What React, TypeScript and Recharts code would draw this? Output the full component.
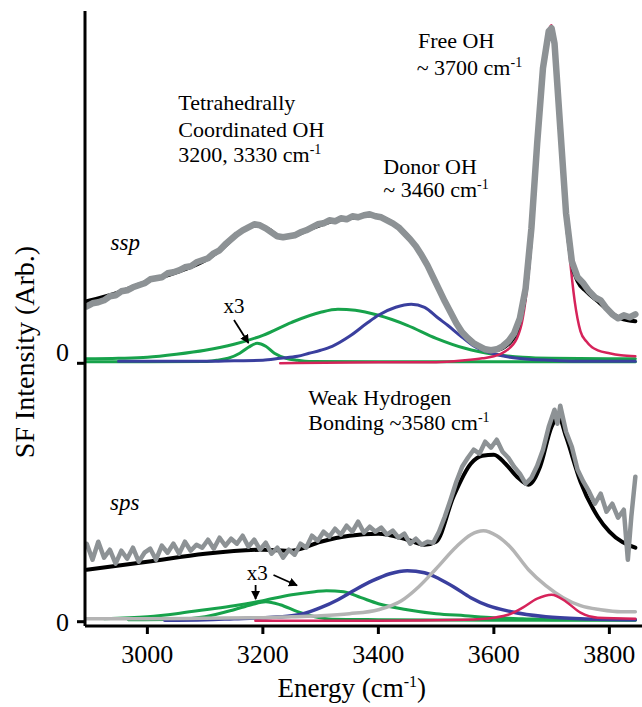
import React from 'react';
import { LineChart, Line, XAxis, YAxis } from 'recharts';

const FONT = 'Liberation Serif, Times New Roman, serif';

// ---------- shared axis ----------
const xDomain = [2892, 3856.5];
const xTicks = [3000, 3200, 3400, 3600, 3800];
const sspDomain = [-0.037, 3.523];
const spsDomain = [-0.043, 2.547];

// ---------- ssp panel ----------
const sspDataE = [2895, 2905, 2915, 2925, 2935, 2945, 2955, 2965, 2975, 2985, 2995, 3005, 3015, 3025, 3035, 3045, 3055, 3065, 3075, 3085, 3095, 3105, 3115, 3125, 3135, 3145, 3155, 3165, 3175, 3185, 3195, 3205, 3215, 3225, 3235, 3245, 3255, 3265, 3275, 3285, 3295, 3305, 3315, 3325, 3335, 3345, 3355, 3365, 3375, 3385, 3395, 3405, 3415, 3425, 3435, 3445, 3455, 3465, 3475, 3485, 3495, 3505, 3515, 3525, 3535, 3545, 3555, 3565, 3575, 3585, 3595, 3605, 3615, 3625, 3635, 3645, 3655, 3665, 3675, 3685, 3695, 3700, 3705, 3715, 3725, 3735, 3745, 3755, 3765, 3775, 3785, 3795, 3805, 3815, 3825, 3835, 3845];
const sspDataI = [0.57, 0.60, 0.61, 0.63, 0.67, 0.68, 0.72, 0.73, 0.76, 0.78, 0.80, 0.84, 0.85, 0.86, 0.90, 0.91, 0.93, 0.96, 0.97, 1.01, 1.03, 1.05, 1.10, 1.13, 1.19, 1.24, 1.29, 1.33, 1.36, 1.39, 1.38, 1.35, 1.31, 1.27, 1.26, 1.27, 1.28, 1.31, 1.33, 1.36, 1.39, 1.40, 1.43, 1.42, 1.45, 1.44, 1.47, 1.46, 1.48, 1.49, 1.47, 1.46, 1.43, 1.40, 1.36, 1.30, 1.24, 1.17, 1.08, 0.98, 0.86, 0.74, 0.62, 0.51, 0.40, 0.31, 0.25, 0.20, 0.17, 0.14, 0.13, 0.14, 0.17, 0.22, 0.30, 0.45, 0.75, 1.35, 2.20, 2.95, 3.32, 3.35, 3.20, 2.35, 1.50, 1.02, 0.86, 0.80, 0.72, 0.66, 0.63, 0.55, 0.49, 0.45, 0.48, 0.46, 0.49];

const sspFitE = [2895, 2950, 3000, 3050, 3100, 3130, 3160, 3190, 3210, 3230, 3250, 3280, 3320, 3360, 3390, 3420, 3450, 3480, 3510, 3540, 3570, 3600, 3620, 3640, 3655, 3665, 3675, 3685, 3695, 3700, 3705, 3715, 3725, 3735, 3745, 3760, 3780, 3800, 3820, 3845];
const sspFitI = [0.62, 0.71, 0.82, 0.91, 1.03, 1.15, 1.31, 1.38, 1.34, 1.27, 1.27, 1.34, 1.42, 1.46, 1.48, 1.42, 1.28, 1.04, 0.68, 0.36, 0.19, 0.13, 0.17, 0.33, 0.72, 1.30, 2.15, 2.92, 3.30, 3.34, 3.18, 2.33, 1.48, 1.00, 0.82, 0.72, 0.62, 0.52, 0.45, 0.42];

const sspGreen1E = [2892, 3000, 3100, 3120, 3140, 3160, 3175, 3190, 3205, 3220, 3240, 3260, 3280, 3400, 3600, 3845];
const sspGreen1I = [0.015, 0.015, 0.018, 0.03, 0.05, 0.10, 0.16, 0.20, 0.17, 0.10, 0.05, 0.03, 0.018, 0.015, 0.015, 0.015];

const sspGreen2E = [2892, 2950, 3000, 3050, 3100, 3150, 3200, 3250, 3300, 3330, 3360, 3400, 3450, 3500, 3550, 3600, 3650, 3700, 3845];
const sspGreen2I = [0.045, 0.05, 0.06, 0.09, 0.13, 0.19, 0.28, 0.41, 0.51, 0.54, 0.53, 0.48, 0.38, 0.25, 0.15, 0.09, 0.06, 0.05, 0.045];

const sspBlueE = [2950, 3100, 3150, 3200, 3230, 3260, 3280, 3300, 3320, 3350, 3380, 3400, 3430, 3457, 3480, 3504, 3520, 3541, 3566, 3597, 3628, 3660, 3700, 3750, 3845];
const sspBlueI = [0.02, 0.02, 0.025, 0.03, 0.05, 0.07, 0.10, 0.13, 0.17, 0.27, 0.40, 0.48, 0.56, 0.59, 0.56, 0.45, 0.38, 0.28, 0.17, 0.10, 0.06, 0.04, 0.03, 0.02, 0.02];

const sspRedE = [3230, 3400, 3500, 3550, 3580, 3600, 3620, 3640, 3650, 3660, 3670, 3680, 3690, 3700, 3710, 3720, 3730, 3740, 3750, 3760, 3770, 3780, 3800, 3820, 3845];
const sspRedI = [0.0, 0.01, 0.01, 0.03, 0.05, 0.07, 0.12, 0.25, 0.45, 0.90, 1.70, 2.60, 3.20, 3.38, 2.95, 1.85, 1.15, 0.62, 0.32, 0.22, 0.16, 0.13, 0.10, 0.08, 0.07];

// ---------- sps panel ----------
const spsDataE = [2895, 2905, 2915, 2925, 2935, 2945, 2955, 2965, 2975, 2985, 2995, 3005, 3015, 3025, 3035, 3045, 3055, 3065, 3075, 3085, 3095, 3105, 3115, 3125, 3135, 3145, 3155, 3165, 3175, 3185, 3195, 3205, 3215, 3225, 3235, 3245, 3255, 3265, 3275, 3285, 3295, 3305, 3315, 3325, 3335, 3345, 3355, 3365, 3375, 3385, 3395, 3405, 3415, 3425, 3435, 3445, 3455, 3465, 3475, 3485, 3495, 3505, 3515, 3525, 3535, 3545, 3555, 3565, 3575, 3585, 3595, 3605, 3615, 3625, 3635, 3645, 3655, 3665, 3675, 3685, 3695, 3705, 3710, 3715, 3725, 3735, 3745, 3755, 3765, 3775, 3785, 3795, 3805, 3815, 3825, 3832, 3838, 3845];
const spsDataI = [0.78, 0.62, 0.80, 0.64, 0.72, 0.58, 0.71, 0.63, 0.74, 0.60, 0.69, 0.73, 0.62, 0.76, 0.69, 0.78, 0.68, 0.80, 0.71, 0.77, 0.74, 0.82, 0.73, 0.84, 0.76, 0.83, 0.78, 0.86, 0.75, 0.82, 0.72, 0.79, 0.68, 0.74, 0.64, 0.72, 0.67, 0.78, 0.74, 0.86, 0.81, 0.90, 0.85, 0.93, 0.87, 0.96, 0.90, 1.00, 0.89, 0.95, 0.90, 0.94, 0.87, 0.91, 0.84, 0.88, 0.78, 0.83, 0.77, 0.80, 0.79, 0.90, 1.05, 1.22, 1.40, 1.55, 1.64, 1.72, 1.68, 1.80, 1.74, 1.82, 1.70, 1.64, 1.55, 1.48, 1.38, 1.44, 1.56, 1.72, 1.95, 2.12, 1.98, 2.16, 1.90, 1.75, 1.52, 1.40, 1.30, 1.18, 1.28, 1.10, 1.18, 1.04, 1.12, 0.62, 1.05, 1.45];

const spsFitE = [2895, 3000, 3100, 3200, 3250, 3300, 3350, 3400, 3450, 3480, 3500, 3530, 3560, 3580, 3600, 3620, 3640, 3660, 3680, 3700, 3712, 3725, 3750, 3780, 3800, 3845];
const spsFitI = [0.52, 0.60, 0.68, 0.72, 0.71, 0.80, 0.86, 0.88, 0.82, 0.77, 0.80, 1.25, 1.58, 1.66, 1.67, 1.58, 1.45, 1.37, 1.55, 1.95, 2.05, 1.85, 1.40, 1.05, 0.90, 0.74];

const spsGreen1E = [2967, 3050, 3100, 3150, 3180, 3205, 3230, 3260, 3290, 3320, 3400, 3600, 3845];
const spsGreen1I = [0.02, 0.025, 0.05, 0.12, 0.17, 0.20, 0.17, 0.10, 0.05, 0.025, 0.02, 0.015, 0.015];

const spsGreen2E = [2925, 3000, 3050, 3100, 3150, 3200, 3250, 3290, 3310, 3340, 3370, 3400, 3450, 3500, 3550, 3600, 3650, 3700, 3845];
const spsGreen2I = [0.03, 0.05, 0.08, 0.12, 0.16, 0.21, 0.27, 0.30, 0.31, 0.30, 0.24, 0.18, 0.12, 0.08, 0.06, 0.04, 0.03, 0.02, 0.02];

const spsBlueE = [3030, 3100, 3150, 3200, 3250, 3270, 3300, 3330, 3360, 3390, 3420, 3450, 3480, 3505, 3530, 3560, 3590, 3630, 3690, 3750, 3845];
const spsBlueI = [0.015, 0.02, 0.03, 0.04, 0.06, 0.08, 0.14, 0.22, 0.32, 0.41, 0.48, 0.51, 0.49, 0.43, 0.35, 0.24, 0.16, 0.10, 0.05, 0.03, 0.02];

const spsGrayE = [2892, 3000, 3100, 3200, 3250, 3300, 3350, 3400, 3440, 3470, 3500, 3535, 3560, 3582, 3605, 3628, 3660, 3690, 3720, 3750, 3785, 3820, 3845];
const spsGrayI = [0.03, 0.03, 0.035, 0.04, 0.05, 0.06, 0.08, 0.12, 0.21, 0.35, 0.53, 0.75, 0.87, 0.91, 0.86, 0.75, 0.52, 0.36, 0.24, 0.16, 0.12, 0.10, 0.10];

const spsRedE = [3187, 3400, 3550, 3600, 3630, 3650, 3675, 3700, 3725, 3750, 3780, 3845];
const spsRedI = [0.01, 0.01, 0.02, 0.04, 0.08, 0.14, 0.23, 0.27, 0.20, 0.09, 0.04, 0.03];

const pts = (E: number[], I: number[]) => E.map((x, i) => ({ x, y: I[i] }));

const GREEN = '#17a24b';
const BLUE = '#3a3f9e';
const RED = '#d6235a';
const DATA_GRAY = '#8d9295';
const COMP_GRAY = '#b4b4b4';

const W = 642;
const LEFT = 85;
const TOP_H = 367;
const BOT_H = 340;

const axisStyle = { stroke: '#000', strokeWidth: 3 };
const tickStyle = { fontSize: 26, fill: '#000', fontFamily: FONT, style: { fontFamily: FONT } };

function series(key: string, d: { x: number; y: number }[], color: string, width: number, type: any = 'monotone') {
  return (
    <Line
      key={key}
      data={d}
      dataKey="y"
      type={type}
      stroke={color}
      strokeWidth={width}
      dot={false}
      activeDot={false}
      isAnimationActive={false}
      strokeLinejoin="round"
      strokeLinecap="round"
    />
  );
}

const txt = { fontFamily: FONT };

export default function App() {
  return (
    <div style={{ position: 'absolute', left: 0, top: 0, width: W, height: 707, background: '#fff', fontFamily: FONT }}>
      <div style={{ position: 'absolute', left: 0, top: 0 }}>
        <LineChart width={W} height={TOP_H} margin={{ top: 11, right: 0, bottom: 0, left: 0 }}>
          <XAxis type="number" dataKey="x" domain={xDomain} allowDataOverflow height={0} tick={false} tickLine={false} axisLine={axisStyle} />
          <YAxis type="number" domain={sspDomain} allowDataOverflow width={LEFT} ticks={[0]} tickSize={8} tickMargin={8} tick={tickStyle} tickLine={axisStyle} axisLine={axisStyle} />
          {series('g1', pts(sspGreen1E, sspGreen1I), GREEN, 3)}
          {series('g2', pts(sspGreen2E, sspGreen2I), GREEN, 3)}
          {series('b', pts(sspBlueE, sspBlueI), BLUE, 3)}
          {series('r', pts(sspRedE, sspRedI), RED, 2.5)}
          {series('fit', pts(sspFitE, sspFitI), '#000', 4)}
          {series('data', pts(sspDataE, sspDataI), DATA_GRAY, 6.5, 'linear')}
        </LineChart>
      </div>
      <div style={{ position: 'absolute', left: 0, top: TOP_H }}>
        <LineChart width={W} height={BOT_H} margin={{ top: 0, right: 0, bottom: 0, left: 0 }}>
          <XAxis type="number" dataKey="x" domain={xDomain} allowDataOverflow height={81} ticks={xTicks} tickSize={8} tickMargin={11} tick={tickStyle} tickLine={axisStyle} axisLine={axisStyle} />
          <YAxis type="number" domain={spsDomain} allowDataOverflow width={LEFT} ticks={[0]} tickSize={8} tickMargin={8} tick={tickStyle} tickLine={axisStyle} axisLine={axisStyle} />
          {series('g1', pts(spsGreen1E, spsGreen1I), GREEN, 3)}
          {series('g2', pts(spsGreen2E, spsGreen2I), GREEN, 3)}
          {series('b', pts(spsBlueE, spsBlueI), BLUE, 3.5)}
          {series('gr', pts(spsGrayE, spsGrayI), COMP_GRAY, 3.5)}
          {series('r', pts(spsRedE, spsRedI), RED, 2.5)}
          {series('fit', pts(spsFitE, spsFitI), '#000', 4)}
          {series('data', pts(spsDataE, spsDataI), DATA_GRAY, 4.5, 'linear')}
        </LineChart>
      </div>
      <svg width={W} height={707} style={{ position: 'absolute', left: 0, top: 0, pointerEvents: 'none', fontFamily: FONT }} fill="#000">
        <defs>
          <marker id="ah" viewBox="0 0 10 10" refX="9" refY="5" markerWidth="5" markerHeight="5" orient="auto">
            <path d="M0,0 L10,5 L0,10 z" fill="#000" />
          </marker>
        </defs>
        <g style={txt}>
          <text transform="translate(33.5,352) rotate(-90)" textAnchor="middle" fontSize={28}>SF Intensity (Arb.)</text>
          <text x={351.7} y={696.7} textAnchor="middle" fontSize={27}>
            Energy (cm<tspan dy={-10} fontSize={16}>-1</tspan><tspan dy={10} fontSize={27}>)</tspan>
          </text>

          <text x={110.5} y={250} fontSize={23} fontStyle="italic">ssp</text>
          <text x={178.3} y={110.3} fontSize={22}>Tetrahedrally</text>
          <text x={178.3} y={136.5} fontSize={22}>Coordinated OH</text>
          <text x={178.3} y={162.3} fontSize={22}>3200, 3330 cm<tspan dy={-8} fontSize={14}>-1</tspan></text>
          <text x={418} y={48.3} fontSize={22}>Free OH</text>
          <text x={416.7} y={74.5} fontSize={22}>~ 3700 cm<tspan dy={-8} fontSize={14}>-1</tspan></text>
          <text x={383.3} y={174} fontSize={22}>Donor OH</text>
          <text x={383.3} y={197} fontSize={22}>~ 3460 cm<tspan dy={-8} fontSize={14}>-1</tspan></text>
          <text x={223.4} y={313.3} fontSize={21}>x3</text>

          <text x={308.3} y={405} fontSize={22}>Weak Hydrogen</text>
          <text x={308.3} y={430} fontSize={22}>Bonding ~3580 cm<tspan dy={-8} fontSize={14}>-1</tspan></text>
          <text x={110} y={510} fontSize={23} fontStyle="italic">sps</text>
          <text x={246.7} y={580} fontSize={21}>x3</text>
        </g>
        <line x1={234} y1={320} x2={248.5} y2={343} stroke="#000" strokeWidth={1.8} markerEnd="url(#ah)" />
        <line x1={255.6} y1={585} x2={255.6} y2={599} stroke="#000" strokeWidth={1.8} markerEnd="url(#ah)" />
        <line x1={273.5} y1={575} x2={297} y2={585.5} stroke="#000" strokeWidth={1.8} markerEnd="url(#ah)" />
      </svg>
    </div>
  );
}
